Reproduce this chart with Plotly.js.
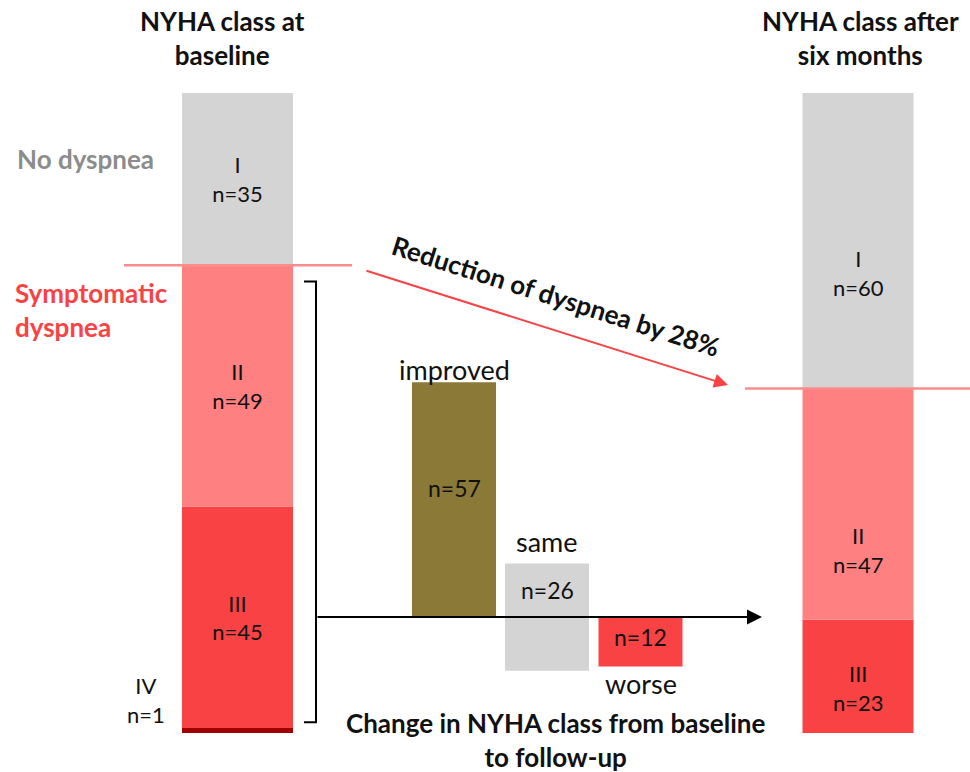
<!DOCTYPE html>
<html>
<head>
<meta charset="utf-8">
<script src="https://cdn.plot.ly/plotly-3.0.1.min.js"></script>
<style>html,body{margin:0;padding:0;background:#fff;}#chart{width:970px;height:772px;}</style>
</head>
<body>
<div id="chart"></div>
<script>
// ---- data ----
const baselineClasses = ['IV', 'III', 'II', 'I'];
const baselineN = [1, 45, 49, 35];
const afterClasses = ['III', 'II', 'I'];
const afterN = [23, 47, 60];
const changeLabels = ['improved', 'same', 'worse'];
const changeN = [57, 26, 12];
const reductionText = 'Reduction of dyspnea by 28%';

// ---- layout constants ----
const FONT = 'Lato, "Open Sans", sans-serif';
const xBase = 237.5, xAfter = 858, wStack = 111;
const xChange = [454, 547, 640.5], wChange = 84;
const cBase = {'I': '#d4d4d4', 'II': '#fe8080', 'III': '#f84244', 'IV': '#a00000'};
const cChange = ['#8b7a37', '#d4d4d4', '#f84244'];
const lineRed = '#fb8c8c', arrowRed = '#f84244';
const SZ_BAR = 22, SZ_CHG = 27, SZ_CHGN = 23, SZ_BOLD = 26;

function cum(arr) { const out = []; let s = 0; for (const v of arr) { out.push(s); s += v; } return out; }
const baseB = cum(baselineN), baseA = cum(afterN);
// change bars: improved above axis, same centred on axis, worse below axis
const changeBase = [0, -changeN[1] / 2, -changeN[2]];

const traces = [
  {
    type: 'bar', x: baselineN.map(() => xBase), y: baselineN, base: baseB, width: wStack,
    marker: {color: baselineClasses.map(c => cBase[c]), line: {width: 0}},
    text: baselineClasses.map((c, i) => c === 'IV' ? '' : c + '<br>n=' + baselineN[i]),
    textposition: 'inside', insidetextanchor: 'middle', constraintext: 'none',
    textfont: {family: FONT, size: SZ_BAR, color: '#111'}, hoverinfo: 'none', xaxis: 'x', yaxis: 'y'
  },
  {
    type: 'bar', x: afterN.map(() => xAfter), y: afterN, base: baseA, width: wStack,
    marker: {color: afterClasses.map(c => cBase[c]), line: {width: 0}},
    hoverinfo: 'none', xaxis: 'x', yaxis: 'y'
  },
  {
    type: 'bar', x: xChange, y: changeN, base: changeBase, width: wChange,
    marker: {color: cChange, line: {width: 0}},
    hoverinfo: 'none', xaxis: 'x', yaxis: 'y2'
  }
];

const symBase = baselineN.slice(0, 3).reduce((a, b) => a + b, 0); // II+III+IV
const symAfter = afterN.slice(0, 2).reduce((a, b) => a + b, 0);   // II+III

const ann = [];
const txt = (o, sz) => Object.assign({showarrow: false, font: {family: FONT, size: sz || SZ_BAR, color: '#111'}}, o);
// after-bar labels
const afterFrac = [0.4, 0.3, 0.39];
afterClasses.forEach((c, i) => ann.push(txt({x: xAfter, y: baseA[i] + afterN[i] * afterFrac[i], xref: 'x', yref: 'y', yanchor: 'middle', text: c + '<br>n=' + afterN[i]})));
// IV label beside baseline bar
ann.push(txt({x: xBase - 92, y: baseB[0] + 8, xref: 'x', yref: 'y', yanchor: 'middle', yshift: -6, text: baselineClasses[0] + '<br>n=' + baselineN[0]}));
// change bar labels
ann.push(txt({x: xChange[0], y: changeN[0], xref: 'x', yref: 'y2', yanchor: 'bottom', yshift: -6, text: changeLabels[0]}, SZ_CHG));
ann.push(txt({x: xChange[0], y: changeN[0] / 2, xref: 'x', yref: 'y2', yanchor: 'middle', yshift: 12, text: 'n=' + changeN[0]}, SZ_CHGN));
ann.push(txt({x: xChange[1], y: changeBase[1] + changeN[1], xref: 'x', yref: 'y2', yanchor: 'bottom', yshift: 4, text: changeLabels[1]}, SZ_CHG));
ann.push(txt({x: xChange[1], y: changeBase[1] + changeN[1], xref: 'x', yref: 'y2', yanchor: 'top', yshift: -10, text: 'n=' + changeN[1]}, SZ_CHGN));
ann.push(txt({x: xChange[2], y: -changeN[2] / 2, xref: 'x', yref: 'y2', yanchor: 'middle', yshift: 5, text: 'n=' + changeN[2]}, SZ_CHGN));
ann.push(txt({x: xChange[2], y: -changeN[2], xref: 'x', yref: 'y2', yanchor: 'top', yshift: 2, text: changeLabels[2]}, SZ_CHG));
// titles
const bold = (o) => Object.assign({showarrow: false, yanchor: 'middle', font: {family: FONT, size: SZ_BOLD, color: '#111'}}, o);
ann.push(bold({x: 222, y: 1 - 38 / 772, xref: 'x', yref: 'paper', text: '<b>NYHA class at<br>baseline</b>'}));
ann.push(bold({x: 860, y: 1 - 38 / 772, xref: 'x', yref: 'paper', text: '<b>NYHA class after<br>six months</b>'}));
ann.push(bold({x: 555, y: 1 - 740 / 772, xref: 'x', yref: 'paper', text: '<b>Change in NYHA class from baseline<br>to follow-up</b>'}));
// side labels
ann.push({x: 85, y: baseB[3] + baselineN[3] * 0.62, xref: 'x', yref: 'y', yanchor: 'middle', showarrow: false, text: '<b>No dyspnea</b>', font: {family: FONT, size: SZ_BOLD, color: '#8c8c8c'}});
ann.push({x: 13, y: symBase - 9, xref: 'x', yref: 'y', xanchor: 'left', yanchor: 'middle', align: 'left', showarrow: false, text: '<b>Symptomatic<br>dyspnea</b>', font: {family: FONT, size: SZ_BOLD, color: '#f84244'}});
// red reduction arrow
ann.push({x: 728, y: symAfter + 0.7, ax: 365, ay: symBase - 1, xref: 'x', yref: 'y', axref: 'x', ayref: 'y', text: '', showarrow: true, arrowhead: 2, arrowsize: 1.4, arrowwidth: 2, arrowcolor: arrowRed});
ann.push({x: 556, y: (symBase + symAfter) / 2 + 6.3, xref: 'x', yref: 'y', yanchor: 'middle', showarrow: false, textangle: 17.6, text: '<b>' + reductionText + '</b>', font: {family: FONT, size: SZ_BOLD, color: '#111'}});
// black axis arrow
ann.push({x: 762, y: 0, ax: 316, ay: 0, xref: 'x', yref: 'y2', axref: 'x', ayref: 'y2', text: '', showarrow: true, arrowhead: 2, arrowsize: 1.5, arrowwidth: 2, arrowcolor: '#000'});

const shapes = [
  {type: 'line', xref: 'x', yref: 'y', x0: 124, x1: 352, y0: symBase, y1: symBase, line: {color: lineRed, width: 2.5}},
  {type: 'line', xref: 'x', yref: 'y', x0: 745, x1: 970, y0: symAfter, y1: symAfter, line: {color: lineRed, width: 2.5}},
  // bracket spanning symptomatic patients
  {type: 'path', xref: 'x', yref: 'y', path: 'M 304 ' + (symBase - 3.3) + ' L 316 ' + (symBase - 3.3) + ' L 316 2.2 L 304 2.2', line: {color: '#000', width: 2}}
];

const layout = {
  width: 970, height: 772, margin: {l: 0, r: 0, t: 0, b: 0},
  paper_bgcolor: '#fff', plot_bgcolor: '#fff', showlegend: false, barmode: 'overlay',
  xaxis: {range: [0, 970], visible: false, fixedrange: true},
  yaxis: {range: [-7.92, 148.9], visible: false, fixedrange: true},
  yaxis2: {range: [-37.6, 149.8], visible: false, overlaying: 'y', fixedrange: true},
  annotations: ann, shapes: shapes, font: {family: FONT}
};
Plotly.newPlot('chart', traces, layout, {displayModeBar: false, staticPlot: true});
</script>
</body>
</html>
